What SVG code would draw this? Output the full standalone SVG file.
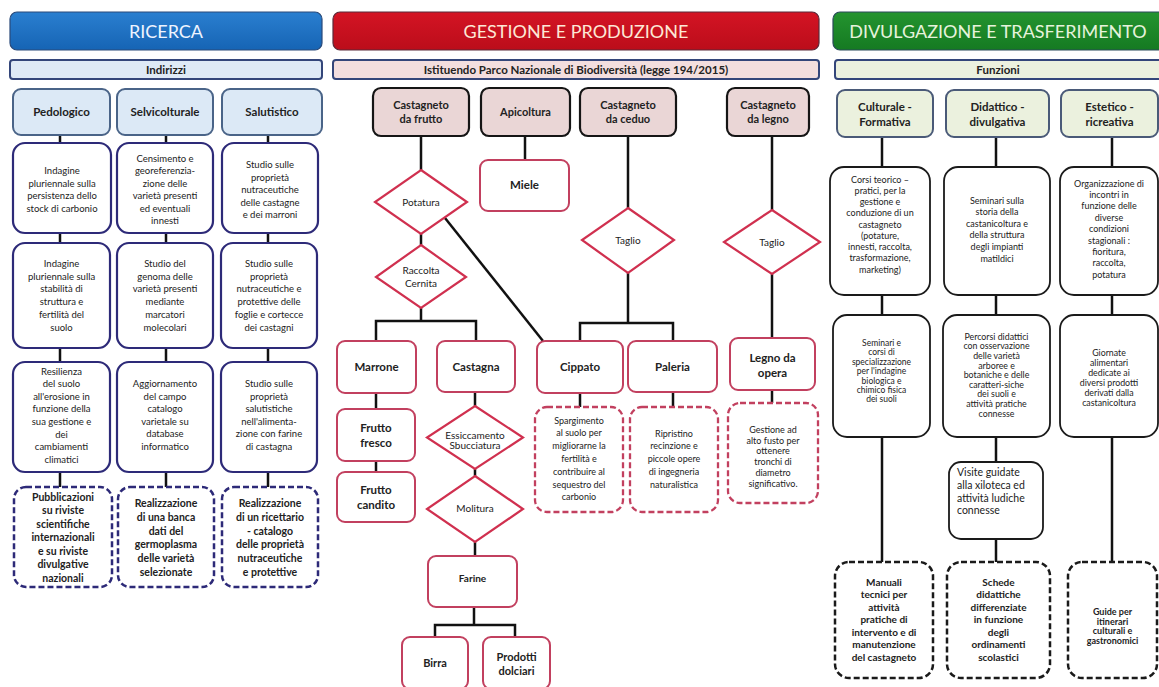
<svg xmlns="http://www.w3.org/2000/svg" width="1159" height="687" viewBox="0 0 1159 687">
<defs>
<linearGradient id="gBlue" x1="0" y1="0" x2="0" y2="1"><stop offset="0" stop-color="#2a7fd0"/><stop offset="1" stop-color="#1664b4"/></linearGradient>
<linearGradient id="gRed" x1="0" y1="0" x2="0" y2="1"><stop offset="0" stop-color="#d41424"/><stop offset="1" stop-color="#bb0d1a"/></linearGradient>
<linearGradient id="gGreen" x1="0" y1="0" x2="0" y2="1"><stop offset="0" stop-color="#24942f"/><stop offset="1" stop-color="#157a22"/></linearGradient>
<style>
text{font-family:Lato,"Liberation Sans",sans-serif;text-anchor:middle;fill:#222}
.h{font-size:18px;font-weight:normal}
.sb{font-size:11.5px;font-weight:bold}
.hn{font-size:11.5px;font-weight:bold}
.t{font-size:9.5px}
.td{font-size:10.5px;font-weight:bold}
.lb{fill:#fff;stroke:#2d2a78;stroke-width:2.2}
.lbd{fill:#fff;stroke:#2d2a78;stroke-width:2.5;stroke-dasharray:6 3}
.lh{fill:#dce9f6;stroke:#4a6488;stroke-width:2}
.mh{fill:#ead6d6;stroke:#151515;stroke-width:2.2}
.mb{fill:#fff;stroke:#c2405f;stroke-width:2}
.md{fill:#fff;stroke:#c2405f;stroke-width:2.3;stroke-dasharray:6 3}
.dia{fill:#fff;stroke:#d0304f;stroke-width:2.2}
.rh{fill:#ebf1de;stroke:#4a5a78;stroke-width:2}
.rb{fill:#fff;stroke:#1a1a1a;stroke-width:1.8}
.rbd{fill:#fff;stroke:#1a1a1a;stroke-width:2.5;stroke-dasharray:6 3}
.c{fill:none;stroke:#111;stroke-width:2.5}
</style>
</defs>
<rect width="1159" height="687" fill="#fff"/>

<!-- headers -->
<g id="hdr-ricerca"><rect x="10" y="12" width="312" height="38" rx="7" fill="url(#gBlue)" stroke="#2a4a7a" stroke-width="1.2"/><text x="166" y="38" class="h" style="fill:#eef4ff">RICERCA</text></g>
<g id="hdr-gestione"><rect x="333" y="12" width="486" height="38" rx="7" fill="url(#gRed)" stroke="#5a2a3a" stroke-width="1.2"/><text x="576" y="38" class="h" style="fill:#fde8d6">GESTIONE E PRODUZIONE</text></g>
<g id="hdr-divulgazione"><rect x="833" y="12" width="335" height="38" rx="7" fill="url(#gGreen)" stroke="#2a4a5a" stroke-width="1.2"/><text x="998" y="38" class="h" style="fill:#e6f3dc">DIVULGAZIONE E TRASFERIMENTO</text></g>

<g id="sub-indirizzi"><rect x="10" y="60" width="312" height="19" rx="3" fill="#dfeaf6" stroke="#34467a" stroke-width="2"/><text x="166" y="74" class="sb">Indirizzi</text></g>
<g id="sub-istituendo"><rect x="333" y="60" width="486" height="19" rx="3" fill="#f3dede" stroke="#34467a" stroke-width="2"/><text x="576" y="74" class="sb">Istituendo Parco Nazionale di Biodiversità (legge 194/2015)</text></g>
<g id="sub-funzioni"><rect x="835" y="60" width="335" height="19" rx="3" fill="#ecf1df" stroke="#34467a" stroke-width="2"/><text x="998" y="74" class="sb">Funzioni</text></g>

<!-- connectors -->
<g id="connectors">
<path class="c" d="M60 135V143M60 233V243M60 348V362M60 472V487"/>
<path class="c" d="M166 135V143M166 233V243M166 348V362M166 472V487"/>
<path class="c" d="M268 135V143M268 233V243M268 348V362M268 472V487"/>
<path class="c" d="M421 136V170M421 234V245M421 308V321M376 341V321H476V341"/>
<path class="c" d="M445 218L543 341"/>
<path class="c" d="M525 136V160"/>
<path class="c" d="M628 136V208M628 273V323M580 341V323H673V341"/>
<path class="c" d="M772 136V210M772 274V338M772 390V403"/>
<path class="c" d="M376 393V409M376 461V472"/>
<path class="c" d="M475 392V406M475 469V476M475 542V556M474 607V625M435 637V625H515V637"/>
<path class="c" d="M580 393V407M673 392V407"/>
<path class="c" d="M882 137V167M882 295V315M882 437V562"/>
<path class="c" d="M996 137V167M996 295V315M996 437V462M996 539V562"/>
<path class="c" d="M1112 137V167M1112 295V315M1112 437V562"/>
</g>

<!-- RICERCA nodes -->
<g id="n-pedologico"><rect class="lh" x="13" y="89" width="97" height="46" rx="8"/><text class="hn" x="61.5" y="116">Pedologico</text></g>
<g id="n-selvicolturale"><rect class="lh" x="117" y="89" width="96" height="46" rx="8"/><text class="hn" x="165" y="116">Selvicolturale</text></g>
<g id="n-salutistico"><rect class="lh" x="222" y="89" width="100" height="46" rx="8"/><text class="hn" x="272" y="116">Salutistico</text></g>

<g id="n-ped1"><rect class="lb" x="13" y="143" width="98" height="90" rx="12"/><text class="t" x="62" y="174"><tspan x="62">Indagine</tspan><tspan x="62" dy="12.5">pluriennale sulla</tspan><tspan x="62" dy="12.5">persistenza dello</tspan><tspan x="62" dy="12.5">stock di carbonio</tspan></text></g>
<g id="n-sel1"><rect class="lb" x="117" y="143" width="96" height="90" rx="12"/><text class="t" x="165" y="161.5"><tspan x="165">Censimento e</tspan><tspan x="165" dy="12.5">georeferenzia-</tspan><tspan x="165" dy="12.5">zione delle</tspan><tspan x="165" dy="12.5">varietà presenti</tspan><tspan x="165" dy="12.5">ed eventuali</tspan><tspan x="165" dy="12.5">innesti</tspan></text></g>
<g id="n-sal1"><rect class="lb" x="222" y="143" width="96" height="90" rx="12"/><text class="t" x="270" y="168"><tspan x="270">Studio sulle</tspan><tspan x="270" dy="12.5">proprietà</tspan><tspan x="270" dy="12.5">nutraceutiche</tspan><tspan x="270" dy="12.5">delle castagne</tspan><tspan x="270" dy="12.5">e dei marroni</tspan></text></g>

<g id="n-ped2"><rect class="lb" x="13" y="243" width="97" height="105" rx="12"/><text class="t" x="61.5" y="267"><tspan x="61.5">Indagine</tspan><tspan x="61.5" dy="12.7">pluriennale sulla</tspan><tspan x="61.5" dy="12.7">stabilità di</tspan><tspan x="61.5" dy="12.7">struttura e</tspan><tspan x="61.5" dy="12.7">fertilità del</tspan><tspan x="61.5" dy="12.7">suolo</tspan></text></g>
<g id="n-sel2"><rect class="lb" x="117" y="243" width="96" height="105" rx="12"/><text class="t" x="165" y="267"><tspan x="165">Studio del</tspan><tspan x="165" dy="12.7">genoma delle</tspan><tspan x="165" dy="12.7">varietà presenti</tspan><tspan x="165" dy="12.7">mediante</tspan><tspan x="165" dy="12.7">marcatori</tspan><tspan x="165" dy="12.7">molecolari</tspan></text></g>
<g id="n-sal2"><rect class="lb" x="221" y="243" width="96" height="105" rx="12"/><text class="t" x="269" y="267"><tspan x="269">Studio sulle</tspan><tspan x="269" dy="12.7">proprietà</tspan><tspan x="269" dy="12.7">nutraceutiche e</tspan><tspan x="269" dy="12.7">protettive delle</tspan><tspan x="269" dy="12.7">foglie e cortecce</tspan><tspan x="269" dy="12.7">dei castagni</tspan></text></g>

<g id="n-ped3"><rect class="lb" x="13" y="362" width="97" height="110" rx="12"/><text class="t" x="61.5" y="374.5"><tspan x="61.5">Resilienza</tspan><tspan x="61.5" dy="12.6">del suolo</tspan><tspan x="61.5" dy="12.6">all'erosione in</tspan><tspan x="61.5" dy="12.6">funzione della</tspan><tspan x="61.5" dy="12.6">sua gestione e</tspan><tspan x="61.5" dy="12.6">dei</tspan><tspan x="61.5" dy="12.6">cambiamenti</tspan><tspan x="61.5" dy="12.6">climatici</tspan></text></g>
<g id="n-sel3"><rect class="lb" x="117" y="362" width="96" height="110" rx="12"/><text class="t" x="165" y="387"><tspan x="165">Aggiornamento</tspan><tspan x="165" dy="12.6">del campo</tspan><tspan x="165" dy="12.6">catalogo</tspan><tspan x="165" dy="12.6">varietale su</tspan><tspan x="165" dy="12.6">database</tspan><tspan x="165" dy="12.6">informatico</tspan></text></g>
<g id="n-sal3"><rect class="lb" x="221" y="362" width="96" height="110" rx="12"/><text class="t" x="269" y="387"><tspan x="269">Studio sulle</tspan><tspan x="269" dy="12.6">proprietà</tspan><tspan x="269" dy="12.6">salutistiche</tspan><tspan x="269" dy="12.6">nell'alimenta-</tspan><tspan x="269" dy="12.6">zione con farine</tspan><tspan x="269" dy="12.6">di castagna</tspan></text></g>

<g id="n-ped4"><rect class="lbd" x="14" y="487" width="98" height="100" rx="12"/><text class="td" x="63" y="500.5"><tspan x="63">Pubblicazioni</tspan><tspan x="63" dy="13.5">su riviste</tspan><tspan x="63" dy="13.5">scientifiche</tspan><tspan x="63" dy="13.5">internazionali</tspan><tspan x="63" dy="13.5">e su riviste</tspan><tspan x="63" dy="13.5">divulgative</tspan><tspan x="63" dy="13.5">nazionali</tspan></text></g>
<g id="n-sel4"><rect class="lbd" x="118" y="487" width="96" height="100" rx="12"/><text class="td" x="166" y="507"><tspan x="166">Realizzazione</tspan><tspan x="166" dy="13.8">di una banca</tspan><tspan x="166" dy="13.8">dati del</tspan><tspan x="166" dy="13.8">germoplasma</tspan><tspan x="166" dy="13.8">delle varietà</tspan><tspan x="166" dy="13.8">selezionate</tspan></text></g>
<g id="n-sal4"><rect class="lbd" x="222" y="487" width="96" height="100" rx="12"/><text class="td" x="270" y="507"><tspan x="270">Realizzazione</tspan><tspan x="270" dy="13.8">di un ricettario</tspan><tspan x="270" dy="13.8">- catalogo</tspan><tspan x="270" dy="13.8">delle proprietà</tspan><tspan x="270" dy="13.8">nutraceutiche</tspan><tspan x="270" dy="13.8">e protettive</tspan></text></g>

<!-- GESTIONE nodes -->
<g id="n-frutto"><rect class="mh" x="373" y="88" width="96" height="48" rx="8"/><text class="hn" x="421" y="108.5" style="font-size:11px"><tspan x="421">Castagneto</tspan><tspan x="421" dy="14.6">da frutto</tspan></text></g>
<g id="n-apicoltura"><rect class="mh" x="481" y="88" width="89" height="48" rx="8"/><text class="hn" x="525.5" y="116" style="font-size:11px">Apicoltura</text></g>
<g id="n-ceduo"><rect class="mh" x="580" y="88" width="96" height="48" rx="8"/><text class="hn" x="628" y="108.5" style="font-size:11px"><tspan x="628">Castagneto</tspan><tspan x="628" dy="14.6">da ceduo</tspan></text></g>
<g id="n-legno"><rect class="mh" x="727" y="88" width="82" height="48" rx="8"/><text class="hn" x="768" y="108.5" style="font-size:11px"><tspan x="768">Castagneto</tspan><tspan x="768" dy="14.6">da legno</tspan></text></g>
<g id="n-miele"><rect class="mb" x="480" y="160" width="89" height="51" rx="8"/><text class="hn" x="524.5" y="189">Miele</text></g>

<g id="n-potatura"><polygon class="dia" points="421,170 467,202 421,234 375,202"/><text class="t" x="421" y="205.5" style="font-size:10px">Potatura</text></g>
<g id="n-raccolta"><polygon class="dia" points="421,245 466,277 421,308 376,277"/><text class="t" x="421" y="274" style="font-size:10px"><tspan x="421">Raccolta</tspan><tspan x="421" dy="13">Cernita</tspan></text></g>
<g id="n-taglio1"><polygon class="dia" points="628,208 674,240 628,273 582,240"/><text class="t" x="628" y="243.5" style="font-size:10px">Taglio</text></g>
<g id="n-taglio2"><polygon class="dia" points="772,210 820,242 772,274 724,242"/><text class="t" x="772" y="245.5" style="font-size:10px">Taglio</text></g>

<g id="n-marrone"><rect class="mb" x="337" y="341" width="79" height="52" rx="8"/><text class="hn" x="376.5" y="371">Marrone</text></g>
<g id="n-castagna"><rect class="mb" x="437" y="341" width="78" height="51" rx="8"/><text class="hn" x="476" y="371">Castagna</text></g>
<g id="n-cippato"><rect class="mb" x="537" y="341" width="86" height="52" rx="8"/><text class="hn" x="580" y="371">Cippato</text></g>
<g id="n-paleria"><rect class="mb" x="628" y="341" width="89" height="51" rx="8"/><text class="hn" x="672.5" y="371">Paleria</text></g>
<g id="n-legnoopera"><rect class="mb" x="730" y="338" width="85" height="52" rx="8"/><text class="hn" x="772.5" y="361.5"><tspan x="772.5">Legno da</tspan><tspan x="772.5" dy="15">opera</tspan></text></g>

<g id="n-fresco"><rect class="mb" x="337" y="409" width="78" height="52" rx="8"/><text class="hn" x="376" y="431.5"><tspan x="376">Frutto</tspan><tspan x="376" dy="15">fresco</tspan></text></g>
<g id="n-candito"><rect class="mb" x="337" y="472" width="78" height="50" rx="8"/><text class="hn" x="376" y="493.5"><tspan x="376">Frutto</tspan><tspan x="376" dy="15">candito</tspan></text></g>
<g id="n-essiccamento"><polygon class="dia" points="475,406 523,437.5 475,469 427,437.5"/><text class="t" x="475" y="438.5" style="font-size:10px"><tspan x="475">Essiccamento</tspan><tspan x="475" dy="10">Sbucciatura</tspan></text></g>
<g id="n-molitura"><polygon class="dia" points="475,476 523,509 475,542 427,509"/><text class="t" x="475" y="511.5" style="font-size:10px">Molitura</text></g>
<g id="n-farine"><rect class="mb" x="428" y="556" width="89" height="51" rx="8"/><text class="t" x="472.5" y="581.5" style="font-size:10px;font-weight:bold">Farine</text></g>
<g id="n-birra"><rect class="mb" x="402" y="637" width="66" height="52" rx="8"/><text class="hn" x="435" y="667" style="font-size:11px">Birra</text></g>
<g id="n-dolciari"><rect class="mb" x="483" y="637" width="67" height="52" rx="8"/><text class="hn" x="516.5" y="661" style="font-size:11px"><tspan x="516.5">Prodotti</tspan><tspan x="516.5" dy="14">dolciari</tspan></text></g>

<g id="n-cippato-d"><rect class="md" x="535" y="407" width="88" height="105" rx="12"/><text class="t" x="579" y="423.5" style="font-size:9px"><tspan x="579">Spargimento</tspan><tspan x="579" dy="12.8">al suolo per</tspan><tspan x="579" dy="12.8">migliorarne la</tspan><tspan x="579" dy="12.8">fertilità e</tspan><tspan x="579" dy="12.8">contribuire al</tspan><tspan x="579" dy="12.8">sequestro del</tspan><tspan x="579" dy="12.8">carbonio</tspan></text></g>
<g id="n-paleria-d"><rect class="md" x="630" y="407" width="88" height="105" rx="12"/><text class="t" x="674" y="436.5" style="font-size:9px"><tspan x="674">Ripristino</tspan><tspan x="674" dy="12.75">recinzione e</tspan><tspan x="674" dy="12.75">piccole opere</tspan><tspan x="674" dy="12.75">di ingegneria</tspan><tspan x="674" dy="12.75">naturalistica</tspan></text></g>
<g id="n-legno-d"><rect class="md" x="728" y="403" width="90" height="100" rx="12"/><text class="t" x="773" y="433" style="font-size:9px"><tspan x="773">Gestione ad</tspan><tspan x="773" dy="10.7">alto fusto per</tspan><tspan x="773" dy="10.7">ottenere</tspan><tspan x="773" dy="10.7">tronchi di</tspan><tspan x="773" dy="10.7">diametro</tspan><tspan x="773" dy="10.7">significativo.</tspan></text></g>

<!-- DIVULGAZIONE nodes -->
<g id="n-culturale"><rect class="rh" x="837" y="90" width="96" height="47" rx="8"/><text class="hn" x="885" y="111"><tspan x="885">Culturale -</tspan><tspan x="885" dy="14.5">Formativa</tspan></text></g>
<g id="n-didattico"><rect class="rh" x="946" y="90" width="103" height="47" rx="8"/><text class="hn" x="997.5" y="111"><tspan x="997.5">Didattico -</tspan><tspan x="997.5" dy="14.5">divulgativa</tspan></text></g>
<g id="n-estetico"><rect class="rh" x="1061" y="90" width="97" height="47" rx="8"/><text class="hn" x="1109.5" y="111"><tspan x="1109.5">Estetico -</tspan><tspan x="1109.5" dy="14.5">ricreativa</tspan></text></g>

<g id="n-cul1"><rect class="rb" x="830" y="167" width="100" height="128" rx="14"/><text class="t" x="880" y="182.5" style="font-size:9px"><tspan x="880">Corsi teorico –</tspan><tspan x="880" dy="11.25">pratici, per la</tspan><tspan x="880" dy="11.25">gestione e</tspan><tspan x="880" dy="11.25">conduzione di un</tspan><tspan x="880" dy="11.25">castagneto</tspan><tspan x="880" dy="11.25">(potature,</tspan><tspan x="880" dy="11.25">innesti, raccolta,</tspan><tspan x="880" dy="11.25">trasformazione,</tspan><tspan x="880" dy="11.25">marketing)</tspan></text></g>
<g id="n-did1"><rect class="rb" x="944" y="167" width="106" height="128" rx="14"/><text class="t" x="997" y="203.5" style="font-size:9px"><tspan x="997">Seminari sulla</tspan><tspan x="997" dy="11.6">storia della</tspan><tspan x="997" dy="11.6">castanicoltura e</tspan><tspan x="997" dy="11.6">della struttura</tspan><tspan x="997" dy="11.6">degli impianti</tspan><tspan x="997" dy="11.6">matildici</tspan></text></g>
<g id="n-est1"><rect class="rb" x="1060" y="167" width="98" height="128" rx="14"/><text class="t" x="1109" y="186.5" style="font-size:9px"><tspan x="1109">Organizzazione di</tspan><tspan x="1109" dy="11.4">incontri in</tspan><tspan x="1109" dy="11.4">funzione delle</tspan><tspan x="1109" dy="11.4">diverse</tspan><tspan x="1109" dy="11.4">condizioni</tspan><tspan x="1109" dy="11.4">stagionali :</tspan><tspan x="1109" dy="11.4">fioritura,</tspan><tspan x="1109" dy="11.4">raccolta,</tspan><tspan x="1109" dy="11.4">potatura</tspan></text></g>

<g id="n-cul2"><rect class="rb" x="833" y="315" width="97" height="122" rx="14"/><text class="t" x="881.5" y="346" style="font-size:8.5px"><tspan x="881.5">Seminari e</tspan><tspan x="881.5" dy="9.4">corsi di</tspan><tspan x="881.5" dy="9.4">specializzazione</tspan><tspan x="881.5" dy="9.4">per l'indagine</tspan><tspan x="881.5" dy="9.4">biologica e</tspan><tspan x="881.5" dy="9.4">chimico fisica</tspan><tspan x="881.5" dy="9.4">dei suoli</tspan></text></g>
<g id="n-did2"><rect class="rb" x="943" y="315" width="107" height="122" rx="14"/><text class="t" x="996.5" y="339.8" style="font-size:8.8px"><tspan x="996.5">Percorsi didattici</tspan><tspan x="996.5" dy="9.6">con osservazione</tspan><tspan x="996.5" dy="9.6">delle varietà</tspan><tspan x="996.5" dy="9.6">arboree e</tspan><tspan x="996.5" dy="9.6">botaniche e delle</tspan><tspan x="996.5" dy="9.6">caratteri-siche</tspan><tspan x="996.5" dy="9.6">dei suoli e</tspan><tspan x="996.5" dy="9.6">attività pratiche</tspan><tspan x="996.5" dy="9.6">connesse</tspan></text></g>
<g id="n-est2"><rect class="rb" x="1060" y="315" width="98" height="122" rx="14"/><text class="t" x="1109" y="356" style="font-size:8.8px"><tspan x="1109">Giornate</tspan><tspan x="1109" dy="10">alimentari</tspan><tspan x="1109" dy="10">dedicate ai</tspan><tspan x="1109" dy="10">diversi prodotti</tspan><tspan x="1109" dy="10">derivati dalla</tspan><tspan x="1109" dy="10">castanicoltura</tspan></text></g>

<g id="n-visite"><rect class="rb" x="949" y="462" width="94" height="77" rx="12"/><text class="t" x="957" y="476" style="font-size:10.5px;text-anchor:start"><tspan x="957">Visite guidate</tspan><tspan x="957" dy="12.8">alla xiloteca ed</tspan><tspan x="957" dy="12.8">attività ludiche</tspan><tspan x="957" dy="12.8">connesse</tspan></text></g>

<g id="n-cul3"><rect class="rbd" x="835" y="562" width="98" height="116" rx="14"/><text class="td" x="884" y="585.5" style="font-size:10px"><tspan x="884">Manuali</tspan><tspan x="884" dy="12.5">tecnici per</tspan><tspan x="884" dy="12.5">attività</tspan><tspan x="884" dy="12.5">pratiche di</tspan><tspan x="884" dy="12.5">intervento e di</tspan><tspan x="884" dy="12.5">manutenzione</tspan><tspan x="884" dy="12.5">del castagneto</tspan></text></g>
<g id="n-did3"><rect class="rbd" x="947" y="562" width="103" height="116" rx="14"/><text class="td" x="998.5" y="585.5" style="font-size:10px"><tspan x="998.5">Schede</tspan><tspan x="998.5" dy="12.5">didattiche</tspan><tspan x="998.5" dy="12.5">differenziate</tspan><tspan x="998.5" dy="12.5">in funzione</tspan><tspan x="998.5" dy="12.5">degli</tspan><tspan x="998.5" dy="12.5">ordinamenti</tspan><tspan x="998.5" dy="12.5">scolastici</tspan></text></g>
<g id="n-est3"><rect class="rbd" x="1068" y="562" width="89" height="116" rx="14"/><text class="td" x="1112.5" y="615" style="font-size:9px"><tspan x="1112.5">Guide per</tspan><tspan x="1112.5" dy="9.5">itinerari</tspan><tspan x="1112.5" dy="9.5">culturali e</tspan><tspan x="1112.5" dy="9.5">gastronomici</tspan></text></g>
</svg>
